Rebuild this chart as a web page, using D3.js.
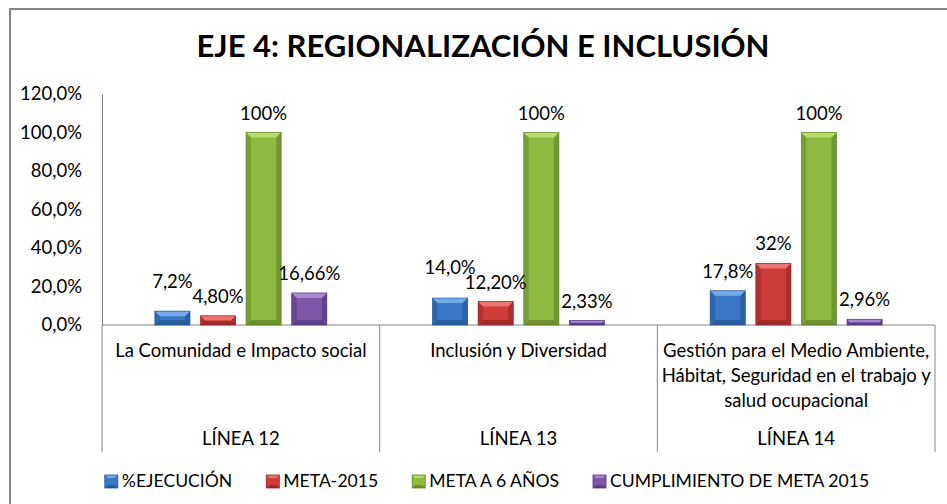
<!DOCTYPE html>
<html>
<head>
<meta charset="utf-8">
<script src="https://cdn.jsdelivr.net/npm/d3@7"></script>
<style>
  body { margin: 0; background: #fff; }
  svg { display: block; font-family: Lato, "Liberation Sans", sans-serif; }
  .axis-line { stroke: #868686; stroke-width: 1; }
</style>
</head>
<body>
<div class="chart-container"></div>
<script>
// Chart data
const title = 'EJE 4: REGIONALIZACIÓN E INCLUSIÓN';
const categories = ['La Comunidad e Impacto social', 'Inclusión y Diversidad',
    'Gestión para el Medio Ambiente, Hábitat, Seguridad en el trabajo y salud ocupacional'];
const groups = ['LÍNEA 12', 'LÍNEA 13', 'LÍNEA 14'];
const seriesNames = ['%EJECUCIÓN', 'META-2015', 'META A 6 AÑOS', 'CUMPLIMIENTO DE META 2015'];
const ejecucion = [7.2, 14.0, 17.8];
const meta2015 = [4.8, 12.2, 32];
const meta6 = [100, 100, 100];
const cumplimiento = [16.66, 2.33, 2.96];
const labelTexts = [
    ['7,2%', '14,0%', '17,8%'],
    ['4,80%', '12,20%', '32%'],
    ['100%', '100%', '100%'],
    ['16,66%', '2,33%', '2,96%']
];
const yTicks = [0, 20, 40, 60, 80, 100, 120];

const seriesValues = [ejecucion, meta2015, meta6, cumplimiento];
const colors = [
    { face: '#3b78c6', light: '#74aaea', dark: '#21518f' },
    { face: '#cf3d3b', light: '#ec7472', dark: '#8f2423' },
    { face: '#8fbb42', light: '#b6dc6c', dark: '#5e7f25' },
    { face: '#7b58aa', light: '#a787d2', dark: '#4f3577' }
];
const FS = 18.5;

function drawChart() {
    d3.select('.chart-container').html('');

    const W = 947, H = 504;
    const margin = { top: 94, right: 12, bottom: 179, left: 102 };
    const width = W - margin.left - margin.right;   // plot width
    const height = 325 - margin.top;                // plot height

    const svg = d3.select('.chart-container')
        .append('svg')
        .attr('width', W)
        .attr('height', H);

    // Outer chart border
    svg.append('rect')
        .attr('x', 10).attr('y', 9)
        .attr('width', W + 20).attr('height', H + 20)
        .attr('fill', 'none')
        .attr('stroke', '#868686')
        .attr('stroke-width', 2);

    // Title
    svg.append('text')
        .attr('x', 483).attr('y', 57)
        .attr('text-anchor', 'middle')
        .attr('font-size', 31)
        .attr('font-weight', 'bold')
        .attr('textLength', 573)
        .attr('lengthAdjust', 'spacingAndGlyphs')
        .attr('fill', '#000')
        .text(title);

    const g = svg.append('g')
        .attr('transform', `translate(${margin.left},${margin.top})`);

    // Scales
    const x0 = d3.scaleBand()
        .domain(d3.range(categories.length))
        .range([0, width])
        .padding(0);

    const groupW = x0.bandwidth() * 0.657;
    const x1 = d3.scaleBand()
        .domain(d3.range(seriesNames.length))
        .range([(x0.bandwidth() - groupW) / 2, (x0.bandwidth() + groupW) / 2])
        .paddingInner(0.23)
        .paddingOuter(0.115);

    const y = d3.scaleLinear()
        .domain([0, 120])
        .range([height, 0]);

    // Y axis
    const yAxis = g.append('g')
        .call(d3.axisLeft(y)
            .tickValues(yTicks)
            .tickSize(0)
            .tickPadding(20)
            .tickFormat(d => d.toFixed(1).replace('.', ',') + '%'));
    yAxis.select('.domain').attr('stroke', '#868686');
    yAxis.selectAll('text')
        .attr('font-size', FS)
        .attr('font-family', 'Lato, sans-serif')
        .attr('fill', '#000');

    // X axis line and category dividers
    g.append('line')
        .attr('class', 'axis-line')
        .attr('x1', 0).attr('x2', width)
        .attr('y1', height).attr('y2', height);

    const dividers = d3.range(categories.length + 1).map(i => i < categories.length ? x0(i) : width);
    g.selectAll('.divider')
        .data(dividers)
        .enter()
        .append('line')
        .attr('class', 'axis-line')
        .attr('x1', d => d).attr('x2', d => d)
        .attr('y1', height).attr('y2', 452 - margin.top);

    // Bars with a bevel look
    function bevelBar(sel, x, yTop, w, h, c) {
        const b = Math.min(5, h / 2, w / 2);
        const x1_ = x + w, y1_ = yTop + h;
        sel.append('rect')
            .attr('x', x).attr('y', yTop)
            .attr('width', w).attr('height', h)
            .attr('fill', c.face);
        // left and right edges
        sel.append('polygon')
            .attr('points', [[x, yTop], [x + b, yTop + b], [x + b, y1_ - b], [x, y1_]].join(' '))
            .attr('fill', c.dark).attr('opacity', 0.45);
        sel.append('polygon')
            .attr('points', [[x1_, yTop], [x1_ - b, yTop + b], [x1_ - b, y1_ - b], [x1_, y1_]].join(' '))
            .attr('fill', c.dark).attr('opacity', 0.6);
        // bottom edge
        sel.append('polygon')
            .attr('points', [[x, y1_], [x + b, y1_ - b], [x1_ - b, y1_ - b], [x1_, y1_]].join(' '))
            .attr('fill', c.dark).attr('opacity', 0.7);
        // top highlight
        sel.append('polygon')
            .attr('points', [[x, yTop], [x1_, yTop], [x1_ - b, yTop + b], [x + b, yTop + b]].join(' '))
            .attr('fill', c.light);
        sel.append('rect')
            .attr('x', x).attr('y', yTop)
            .attr('width', w).attr('height', h)
            .attr('fill', 'none')
            .attr('stroke', c.dark)
            .attr('stroke-width', 0.8)
            .attr('stroke-opacity', 0.8);
    }

    const labels = [];
    categories.forEach((cat, ci) => {
        const cg = g.append('g').attr('transform', `translate(${x0(ci)},0)`);
        seriesValues.forEach((vals, si) => {
            const v = vals[ci];
            const bx = x1(si), bw = x1.bandwidth();
            bevelBar(cg.append('g'), bx, y(v), bw, height - y(v), colors[si]);
            labels.push({ ci, si, x: x0(ci) + bx + bw / 2, y: y(v) - 13, text: labelTexts[si][ci] });
        });
    });

    // Nudge a label up when it sits almost level with its right neighbour
    categories.forEach((cat, ci) => {
        for (let si = seriesNames.length - 2; si >= 0; si--) {
            const a = labels.find(l => l.ci === ci && l.si === si);
            const b = labels.find(l => l.ci === ci && l.si === si + 1);
            if (Math.abs(a.y - b.y) < 12) a.y = b.y - 15;
        }
    });

    g.selectAll('.data-label')
        .data(labels)
        .enter()
        .append('text')
        .attr('class', 'data-label')
        .attr('x', d => d.x)
        .attr('y', d => d.y)
        .attr('text-anchor', 'middle')
        .attr('font-size', FS)
        .attr('fill', '#000')
        .text(d => d.text);

    // Category labels (wrapped)
    function wrapLines(text, maxW, fontSize) {
        const tmp = svg.append('text').attr('font-size', fontSize);
        const words = text.split(' ');
        const lines = [];
        let line = [];
        words.forEach(w => {
            line.push(w);
            tmp.text(line.join(' '));
            if (tmp.node().getComputedTextLength() > maxW && line.length > 1) {
                line.pop();
                lines.push(line.join(' '));
                line = [w];
            }
        });
        lines.push(line.join(' '));
        tmp.remove();
        return lines;
    }

    categories.forEach((cat, ci) => {
        const cx = x0(ci) + x0.bandwidth() / 2;
        const lines = wrapLines(cat, x0.bandwidth() + 2, FS);
        const t = g.append('text')
            .attr('text-anchor', 'middle')
            .attr('font-size', FS)
            .attr('fill', '#000');
        lines.forEach((ln, li) => {
            t.append('tspan')
                .attr('x', cx)
                .attr('y', 357 - margin.top + li * 25)
                .text(ln);
        });
        g.append('text')
            .attr('x', cx)
            .attr('y', 445 - margin.top)
            .attr('text-anchor', 'middle')
            .attr('font-size', FS)
            .attr('fill', '#000')
            .text(groups[ci]);
    });

    // Legend
    const legend = svg.append('g');
    let lx = 0;
    seriesNames.forEach((name, si) => {
        const item = legend.append('g').attr('transform', `translate(${lx},0)`);
        const m = item.append('g');
        m.append('rect').attr('x', 0).attr('y', -6).attr('width', 13).attr('height', 13).attr('fill', colors[si].face);
        m.append('polygon')
            .attr('points', [[0, -6], [13, -6], [10, -3], [3, -3]].join(' '))
            .attr('fill', colors[si].light);
        m.append('polygon')
            .attr('points', [[0, 7], [3, 4], [10, 4], [13, 7]].join(' '))
            .attr('fill', colors[si].dark).attr('opacity', 0.7);
        m.append('rect').attr('x', 0).attr('y', -6).attr('width', 13).attr('height', 13)
            .attr('fill', 'none').attr('stroke', colors[si].dark).attr('stroke-width', 0.8);
        const t = item.append('text')
            .attr('x', 17).attr('y', 6)
            .attr('font-size', 17.6)
            .attr('fill', '#000')
            .text(name);
        lx += 17 + t.node().getComputedTextLength() + 34;
    });
    const legendW = lx - 34;
    legend.attr('transform', `translate(${487 - legendW / 2},481)`);
}

drawChart();
</script>
</body>
</html>
